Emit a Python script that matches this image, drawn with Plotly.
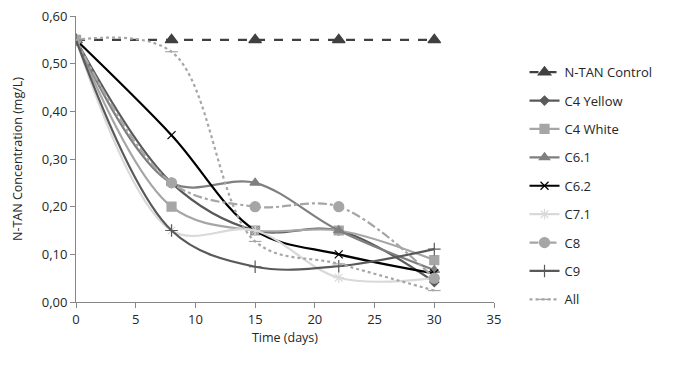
import plotly.graph_objects as go

days = [0, 8, 15, 22, 30]
control = [0.55, 0.55, 0.55, 0.55, 0.55]
c4_yellow = [0.55, 0.25, 0.15, 0.15, 0.042]
c4_white = [0.55, 0.20, 0.15, 0.15, 0.088]
c6_1 = [0.55, 0.25, 0.25, 0.15, 0.067]
c6_2 = [0.55, 0.35, 0.15, 0.10, 0.06]
c7_1 = [0.55, 0.15, 0.15, 0.051, 0.05]
c8 = [0.55, 0.25, 0.20, 0.20, 0.05]
c9 = [0.55, 0.15, 0.074, 0.075, 0.111]
all_ = [0.55, 0.525, 0.127, 0.08, 0.024]

x_ticks = [0, 5, 10, 15, 20, 25, 30, 35]
y_ticks = [0.0, 0.1, 0.2, 0.3, 0.4, 0.5, 0.6]

series = [
    ("N-TAN Control", control, "#404040", "dash", "triangle-up", 11, False),
    ("C4 Yellow", c4_yellow, "#595959", "solid", "diamond", 7, True),
    ("C4 White", c4_white, "#a6a6a6", "solid", "square", 9, True),
    ("C6.1", c6_1, "#7f7f7f", "solid", "triangle-up", 9, True),
    ("C6.2", c6_2, "#000000", "solid", "x-thin-open", 8, True),
    ("C7.1", c7_1, "#d9d9d9", "solid", "asterisk-open", 9, True),
    ("C8", c8, "#a6a6a6", "dashdot", "circle", 10, True),
    ("C9", c9, "#595959", "solid", "cross-thin-open", 9, True),
    ("All", all_, "#a6a6a6", "dot", "line-ew-open", 9, True),
]

fig = go.Figure()
for name, ys, color, dash, sym, size, smooth in series:
    fig.add_trace(go.Scatter(
        x=days, y=ys, name=name, legendgroup=name, mode="lines+markers",
        line=dict(color=color, width=2.2, dash=dash,
                  shape="spline" if smooth else "linear", smoothing=1.0),
        marker=dict(symbol=sym, size=size, color=color,
                    line=dict(color=color, width=1.2)),
    ))

fig.update_layout(
    width=668, height=359,
    margin=dict(l=68, r=182, t=8, b=65, autoexpand=False),
    paper_bgcolor="white", plot_bgcolor="white",
    separators=", ",
    font=dict(family="Open Sans, Liberation Sans, sans-serif", size=12, color="#262626"),
    showlegend=True,
    legend=dict(x=1.073, y=0.856, xanchor="left", yanchor="top",
                font=dict(size=13, color="#262626"),
                tracegroupgap=8.5, itemwidth=30, bgcolor="rgba(0,0,0,0)"),
    xaxis=dict(range=[0, 35], tickvals=x_ticks, showgrid=False, zeroline=False,
               showline=True, linecolor="#868686", linewidth=1, automargin=False,
               ticks="outside", tickcolor="#868686", ticklen=5,
               ticklabeloverflow="allow",
               title=dict(text="Time (days)", font=dict(size=12.5), standoff=6),
               tickfont=dict(size=13)),
    yaxis=dict(range=[0, 0.6], tickvals=y_ticks, tickformat=".2f", showgrid=False,
               zeroline=False, showline=True, linecolor="#868686", linewidth=1,
               automargin=False, ticklabeloverflow="allow",
               ticks="outside", tickcolor="#868686", ticklen=5,
               title=dict(text="N-TAN Concentration (mg/L)", font=dict(size=12.5), standoff=16),
               tickfont=dict(size=13)),
)

fig.write_html("out.html")
